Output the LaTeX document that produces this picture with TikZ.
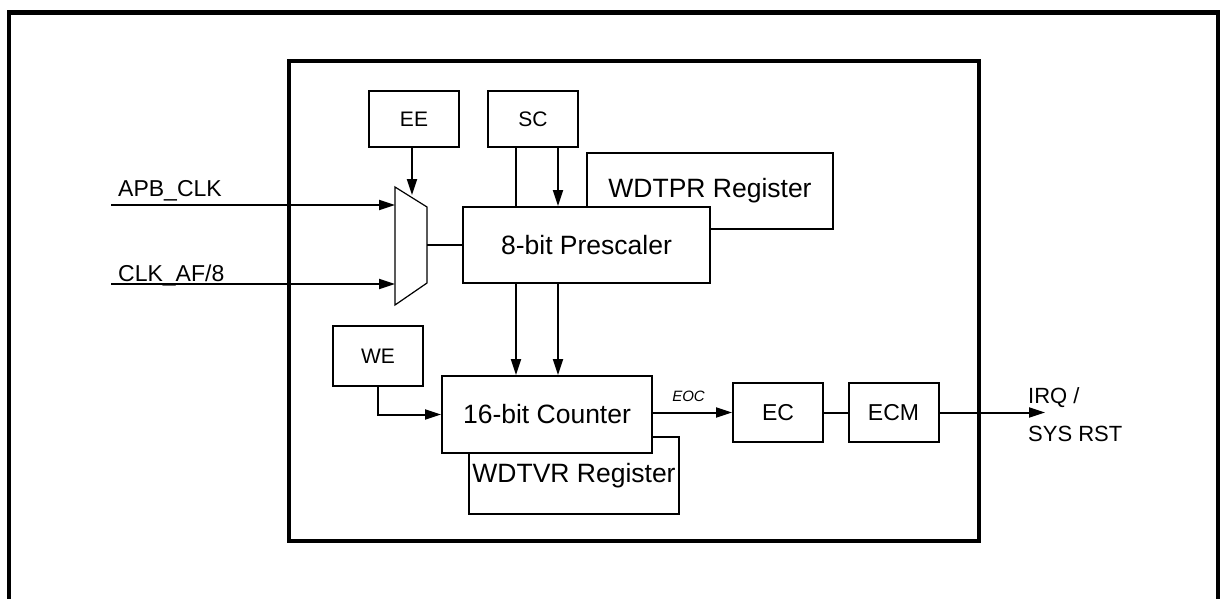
\documentclass[tikz,border=0pt]{standalone}
\usepackage{fontspec}
\setmainfont{Liberation Sans}
\usetikzlibrary{arrows.meta,calc}
\tikzset{
  blk/.style={draw,line width=2pt,fill=white,inner sep=0pt,font=\fontsize{26.5}{30}\selectfont},
  sblk/.style={blk,minimum width=90pt,minimum height=56pt,font=\fontsize{21}{24}\selectfont},
  eblk/.style={blk,minimum width=90pt,minimum height=59pt,font=\fontsize{23}{26}\selectfont},
  regblk/.style={blk,minimum width=210pt,minimum height=77pt},
  wire/.style={line width=2pt},
  sig/.style={wire,-{Triangle[length=16pt,width=10pt]}},
  frame/.style={line width=4.5pt},
  lbl/.style={inner sep=0pt,font=\fontsize{23}{26}\selectfont},
  eoc/.style={inner sep=0pt,font=\fontsize{15}{18}\selectfont\itshape},
}

\begin{document}
\begin{tikzpicture}[x=1pt,y=-1pt]
  \useasboundingbox (0,0) rectangle (1225,599);
  % frames
  \draw[frame] (9,599) -- (9,12.5) -- (1218,12.5) -- (1218,599);
  \draw[frame] (289,61) rectangle (979,541);
  % registers first, the main blocks sit on top of them
  \node[blk,minimum width=246pt,minimum height=76pt] (wdtpr) at (710,191) {WDTPR Register};
  \node[blk,minimum width=247pt,minimum height=76pt] (pre) at (586.5,245) {8-bit Prescaler};
  \node[regblk] (wdtvr) at (574,475.5) {WDTVR Register};
  \node[regblk] (cnt) at (547,414.5) {16-bit Counter};
  \node[sblk] (ee) at (414,119) {EE};
  \node[sblk] (sc) at (533,119) {SC};
  \node[sblk,minimum height=60pt] (we) at (378,356) {WE};
  \node[eblk] (ec) at (778,412.5) {EC};
  \node[eblk] (ecm) at (893.5,412.5) {ECM};
  % clock mux
  \draw[line width=1.2pt,fill=white] (395,187) -- (427,207) -- (427,283) -- (395,305) -- cycle;
  \coordinate (muxA) at (395,205);
  \coordinate (muxB) at (395,284);
  \coordinate (muxO) at (427,245);
  \coordinate (muxT) at (412,195);
  % clock inputs
  \coordinate (apbIn) at (111,205);
  \coordinate (afIn) at (111,284);
  \node[lbl,anchor=base west] (apb) at (118,196) {APB\_CLK};
  \node[lbl,anchor=base west] (af) at (118,281) {CLK\_AF/8};
  \draw[sig] (apbIn) -- (muxA);
  \draw[sig] (afIn) -- (muxB);
  \draw[sig] (ee.south -| muxT) -- (muxT);
  \draw[wire] (muxO) -- (muxO -| pre.west);
  % SC lines through the prescaler
  \coordinate (scL) at ([xshift=-17pt]sc.south);
  \coordinate (scR) at ([xshift=25pt]sc.south);
  \draw[wire] (scL) -- (scL |- pre.north);
  \draw[sig] (scR) -- (scR |- pre.north);
  \draw[sig] (scL |- pre.south) -- (scL |- cnt.north);
  \draw[sig] (scR |- pre.south) -- (scR |- cnt.north);
  \draw[sig] (we.south) |- (cnt.west);
  % output chain
  \draw[sig] (cnt.east |- ec.west) -- node[eoc,above=10pt,pos=0.45] (eocl) {EOC} (ec.west);
  \draw[wire] (ec) -- (ecm);
  \coordinate (irqEnd) at (1045,412.5);
  \draw[sig] (ecm.east) -- (irqEnd);
  \node[lbl,font=\fontsize{22}{38}\selectfont,align=left,anchor=west] (irq) at (1028,415) {IRQ /\\SYS RST};
\end{tikzpicture}
\end{document}
